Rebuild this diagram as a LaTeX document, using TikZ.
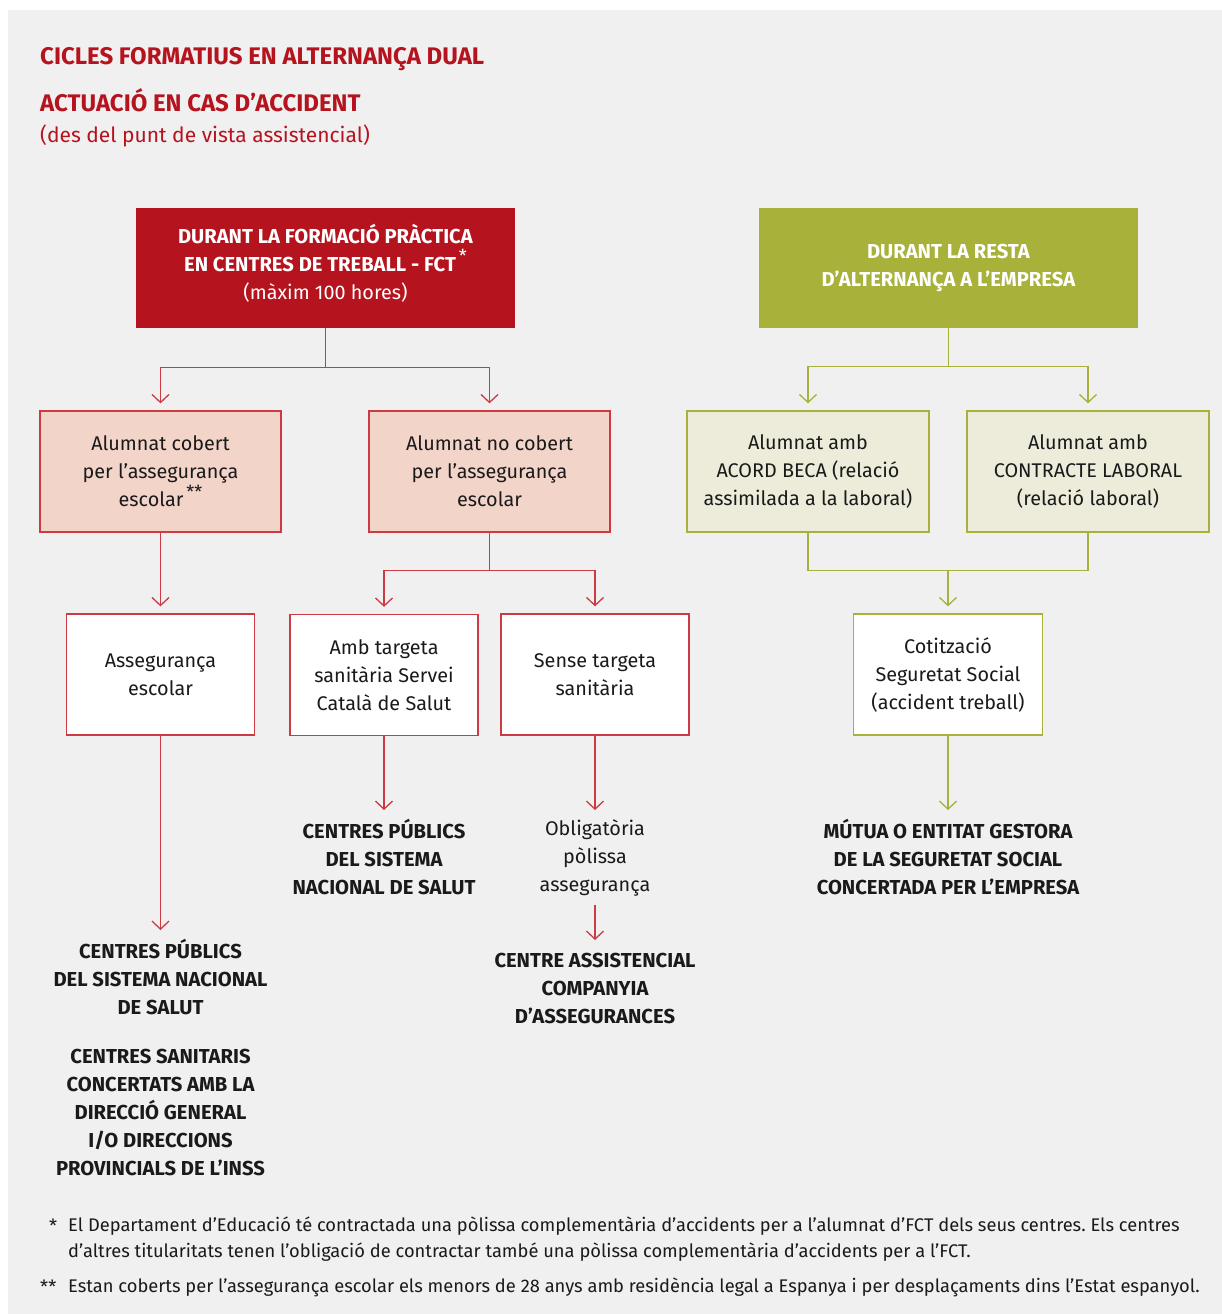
\documentclass[tikz,border=0pt]{standalone}
\usepackage{fontspec}
\setmainfont{Fira Sans}
\usetikzlibrary{arrows.meta,calc}
\definecolor{bgc}{HTML}{F0F0F0}
\definecolor{hred}{HTML}{B5131E}
\definecolor{lred}{HTML}{CC3A44}
\definecolor{pinkf}{HTML}{F2D4C9}
\definecolor{hgreen}{HTML}{A8B13A}
\definecolor{lgreen}{HTML}{EDECDA}
\definecolor{txt}{HTML}{1A1A1A}
\frenchspacing
\newcommand{\bodyf}{\fontsize{19.8}{28}\selectfont}
\newcommand{\boldf}{\fontsize{20.2}{28}\selectfont\bfseries}
\newcommand{\titlef}{\fontsize{24}{28}\selectfont\bfseries}
\newcommand{\notef}{\fontsize{18.3}{26}\selectfont}
\newcommand{\supst}[1]{\raisebox{0.42em}{\fontsize{18}{18}\selectfont\,#1}}
\begin{document}
\begin{tikzpicture}[x=1pt,y=-1pt,
  every node/.style={inner sep=0pt, text=txt},
  hdr/.style={minimum width=379pt, minimum height=120pt, align=center, text=white, font=\bodyf},
  redbox/.style={draw=lred, fill=pinkf, line width=1.3pt, minimum width=241pt, minimum height=121pt, align=center, font=\bodyf},
  redwbox/.style={draw=lred, fill=white, line width=1.3pt, minimum width=188pt, minimum height=121pt, align=center, font=\bodyf},
  grnbox/.style={draw=hgreen, fill=lgreen, line width=1.3pt, minimum width=242pt, minimum height=121pt, align=center, font=\bodyf},
  grnwbox/.style={draw=hgreen, fill=white, line width=1.3pt, minimum width=189pt, minimum height=121pt, align=center, font=\bodyf},
  outtxt/.style={align=center, font=\boldf},
  midtxt/.style={align=center, font=\bodyf},
  rline/.style={draw=lred, line width=1.3pt},
  gline/.style={draw=hgreen, line width=1.3pt},
  rarr/.style={rline, -{Straight Barb[length=8pt,width=17pt,line width=1.3pt]}},
  garr/.style={gline, -{Straight Barb[length=8pt,width=17pt,line width=1.3pt]}},
  notetxt/.style={anchor=base west, font=\notef}
]
\useasboundingbox (0,0) rectangle (1222,1314);
\fill[bgc] (8,10) rectangle (1222,1314);

% titles
\node[anchor=base west, font=\titlef, text=hred] (t1) at (40,64) {CICLES FORMATIUS EN ALTERNANÇA DUAL};
\node[anchor=base west, font=\titlef, text=hred] (t2) at (40,111) {ACTUACIÓ EN CAS D’ACCIDENT};
\node[anchor=base west, font=\fontsize{21}{28}\selectfont, text=hred] (t3) at (40,142) {(des del punt de vista assistencial)};

% headers
\node[hdr, fill=hred] (h1) at (325.5,268) {\textbf{\fontsize{20.2}{28}\selectfont DURANT LA FORMACIÓ PRÀCTICA}\\\textbf{\fontsize{20.2}{28}\selectfont EN CENTRES DE TREBALL - FCT}\supst{*}\\(màxim 100 hores)\rule[-13pt]{0pt}{13pt}};
\node[hdr, fill=hgreen] (h2) at (948.5,268) {\textbf{\fontsize{20.2}{28}\selectfont DURANT LA RESTA}\\\textbf{\fontsize{20.2}{28}\selectfont D’ALTERNANÇA A L’EMPRESA}};

% second level
\node[redbox] (nA) at (160.5,471.5) {Alumnat cobert\\per l’assegurança\\escolar\supst{**}};
\node[redbox] (nB) at (489.5,471.5) {Alumnat no cobert\\per l’assegurança\\escolar};
\node[grnbox] (nC) at (808,471.5) {Alumnat amb\\ACORD BECA (relació\\assimilada a la laboral)};
\node[grnbox] (nD) at (1088,471.5) {Alumnat amb\\CONTRACTE LABORAL\\(relació laboral)};

% third level
\node[redwbox] (nF) at (160.5,674.5) {Assegurança\\escolar};
\node[redwbox] (nG) at (384,675) {Amb targeta\\sanitària Servei\\Català de Salut};
\node[redwbox] (nH) at (595,674.5) {Sense targeta\\sanitària};
\node[grnwbox] (nE) at (948,674.5) {Cotització\\Seguretat Social\\(accident treball)};

% outcomes
\node[outtxt] (oF1) at (160.5,977) {CENTRES PÚBLICS\\DEL SISTEMA NACIONAL\\DE SALUT};
\node[outtxt] (oF2) at (160.5,1112) {CENTRES SANITARIS\\CONCERTATS AMB LA\\DIRECCIÓ GENERAL\\I/O DIRECCIONS\\PROVINCIALS DE L’INSS};
\node[outtxt] (oG) at (384,857) {CENTRES PÚBLICS\\DEL SISTEMA\\NACIONAL DE SALUT};
\node[midtxt] (oH) at (595,858) {Obligatòria\\pòlissa\\assegurança};
\node[outtxt] (oH2) at (595,988) {CENTRE ASSISTENCIAL\\COMPANYIA\\D’ASSEGURANCES};
\node[outtxt] (oE) at (948,857) {MÚTUA O ENTITAT GESTORA\\DE LA SEGURETAT SOCIAL\\CONCERTADA PER L’EMPRESA};

% connectors red
\draw[rarr] (h1.south) -- ++(0,39) -| ([yshift=7pt]nA.north);
\draw[rarr] (h1.south) -- ++(0,39) -| ([yshift=7pt]nB.north);
\draw[rarr] (nA.south) -- ([yshift=7pt]nF.north);
\draw[rarr] (nB.south) -- ++(0,38) -| ([yshift=7pt]nG.north);
\draw[rarr] (nB.south) -- ++(0,38) -| ([yshift=7pt]nH.north);
\draw[rarr] (nF.south) -- ([yshift=47pt]oF1.center);
\draw[rarr] (nG.south) -- ([yshift=47pt]oG.center);
\draw[rarr] (nH.south) -- ([yshift=48pt]oH.center);
\draw[rarr] ([yshift=-47pt]oH.center) -- ([yshift=48pt]oH2.center);

% connectors green
\draw[garr] (h2.south) -- ++(0,38) -| ([yshift=7pt]nC.north);
\draw[garr] (h2.south) -- ++(0,38) -| ([yshift=7pt]nD.north);
\draw[gline] (nC.south) -- ++(0,38) -| (nD.south);
\coordinate (jg) at ($(nC.south)!0.5!(nD.south)+(0,38)$);
\draw[garr] (jg) -- ([yshift=7pt]nE.north);
\draw[garr] (nE.south) -- ([yshift=47pt]oE.center);

% footnotes
\node[notetxt] (s1) at (49,1232) {*};
\node[notetxt] (f1a) at (68,1231) {El Departament d’Educació té contractada una pòlissa complementària d’accidents per a l’alumnat d’FCT dels seus centres. Els centres};
\node[notetxt] (f1b) at (68,1257) {d’altres titularitats tenen l’obligació de contractar també una pòlissa complementària d’accidents per a l’FCT.};
\node[notetxt] (s2) at (40,1293) {**};
\node[notetxt] (f2) at (68,1292) {Estan coberts per l’assegurança escolar els menors de 28 anys amb residència legal a Espanya i per desplaçaments dins l’Estat espanyol.};
\end{tikzpicture}
\end{document}
